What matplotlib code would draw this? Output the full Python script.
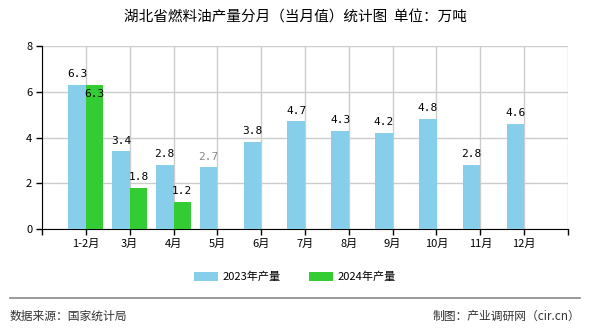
import numpy as np
import matplotlib
matplotlib.use("Agg")
import matplotlib.pyplot as plt

plt.rcParams['font.family'] = ['Noto Sans CJK SC', 'DejaVu Sans']

months = ["1-2月", "3月", "4月", "5月", "6月", "7月", "8月", "9月", "10月", "11月", "12月"]
prod_2023 = [6.3, 3.4, 2.8, 2.7, 3.8, 4.7, 4.3, 4.2, 4.8, 2.8, 4.6]
prod_2024 = [6.3, 1.8, 1.2]

c23 = "#87ceeb"
c24 = "#33cc33"

fig = plt.figure(figsize=(5.9, 3.3), dpi=100)
ax = fig.add_axes([42 / 590, 1 - 229 / 330, 526 / 590, 183 / 330])

x = np.arange(1, len(months) + 1)
w = 0.4
ax.bar(x - w / 2, prod_2023, w, color=c23, label="2023年产量", zorder=3)
x24 = x[:len(prod_2024)]
ax.bar(x24 + w / 2, prod_2024, w, color=c24, label="2024年产量", zorder=3)

for i, v in enumerate(prod_2023):
    col = "#888888" if i == 3 else "black"
    ax.text(x[i] - w / 2, v + 0.25, f"{v:.1f}", ha="center", va="bottom",
            fontsize=8, color=col, family="DejaVu Sans Mono", zorder=4)
for i, v in enumerate(prod_2024):
    y = v - 0.6 if i == 0 else v + 0.25
    ax.text(x24[i] + w / 2, y, f"{v:.1f}", ha="center", va="bottom",
            fontsize=8, color="black", family="DejaVu Sans Mono", zorder=4)

ax.set_xlim(0, 12)
ax.set_ylim(0, 8)
ax.set_xticks(np.arange(0, 13))
ax.set_xticklabels([""] + months + [""], fontsize=8)
ax.set_yticks([0, 2, 4, 6, 8])
ax.set_yticklabels(["0", "2", "4", "6", "8"], fontsize=8)
ax.grid(True, color="#cccccc", linewidth=1, zorder=0)
ax.set_axisbelow(True)
for s in ["top", "right"]:
    ax.spines[s].set_visible(False)
ax.spines["left"].set_color("black")
ax.spines["bottom"].set_color("black")
ax.tick_params(axis="both", length=4, width=1, color="black", pad=3)

fig.text(0.5, 1 - 18 / 330, "湖北省燃料油产量分月（当月值）统计图  单位：万吨",
         ha="center", va="center", fontsize=10.5)

fig.legend(loc="center", bbox_to_anchor=(0.5, 1 - 277 / 330), ncol=2,
           frameon=False, fontsize=8, handlelength=2.2, handleheight=0.9,
           columnspacing=2.5, handletextpad=0.4)

fig.add_artist(plt.Line2D([10 / 590, 580 / 590], [1 - 298 / 330, 1 - 298 / 330],
                          color="#888888", linewidth=1.2))
fig.text(10 / 590, 1 - 316 / 330, "数据来源：国家统计局", ha="left", va="center",
         fontsize=8.5, color="#333333")
fig.text(580 / 590, 1 - 316 / 330, "制图：产业调研网（cir.cn）", ha="right", va="center",
         fontsize=8.5, color="#333333")

fig.savefig("out.png", dpi=100)
